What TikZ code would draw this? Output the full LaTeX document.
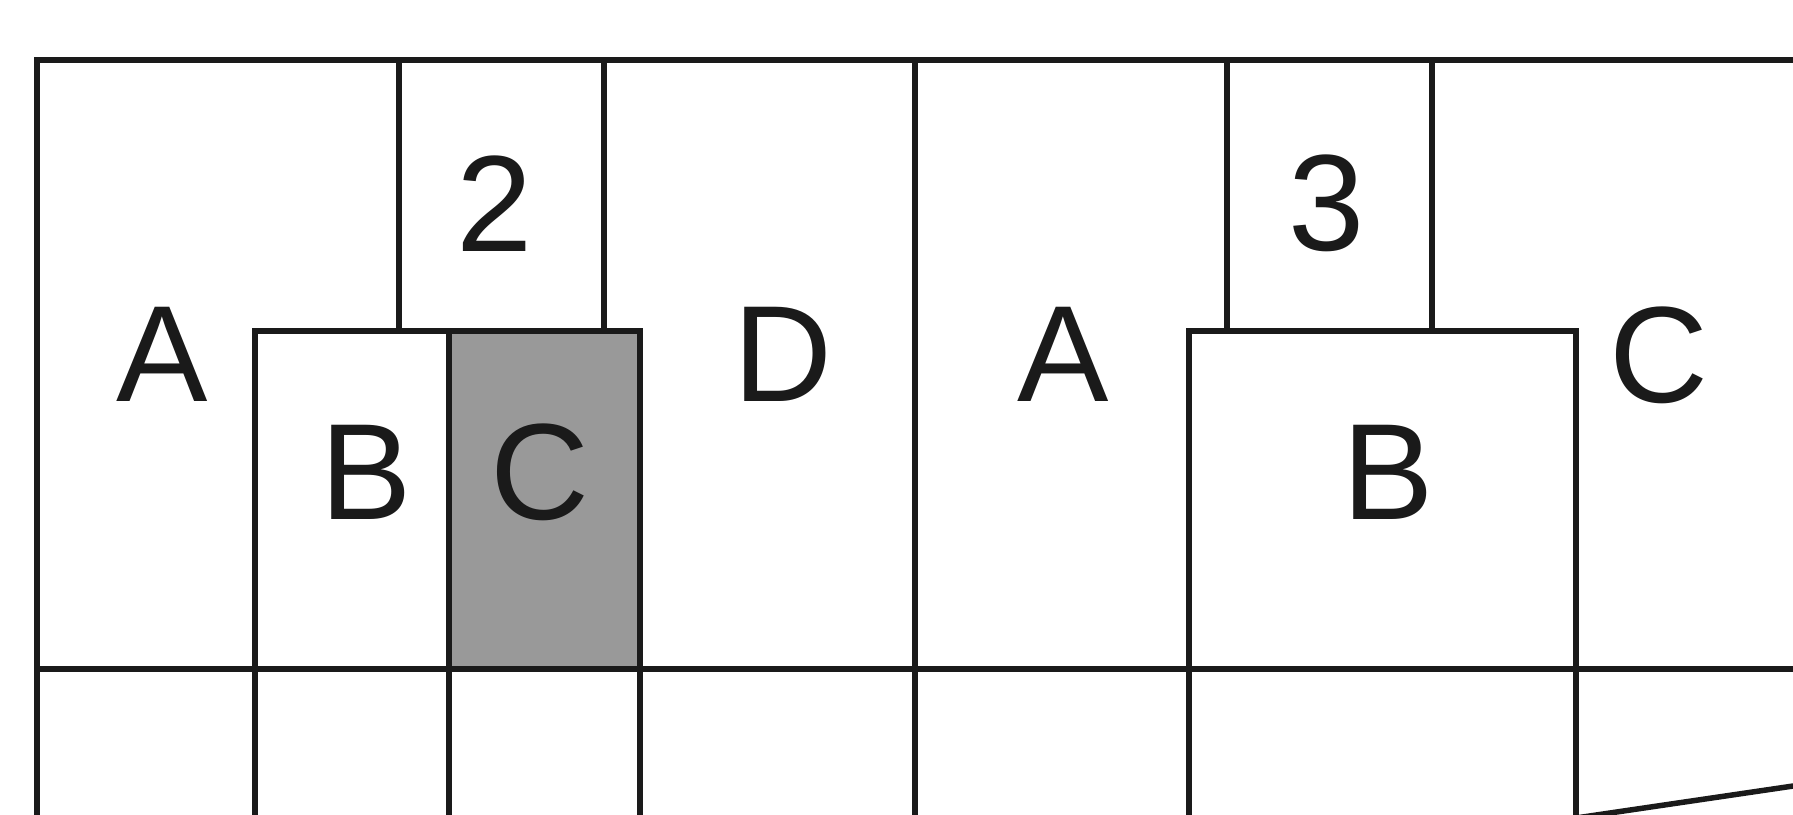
\documentclass[tikz,border=0pt]{standalone}
\usepackage{fontspec}
\setmainfont{Liberation Sans}
\usetikzlibrary{calc}

\definecolor{ink}{HTML}{1A1A1A}
\definecolor{cellgray}{HTML}{999999}

\begin{document}
\begin{tikzpicture}[x=0.02cm, y=-0.02cm,
    wall/.style={draw=ink, line width=0.11cm, line cap=rect},
    letter/.style={inner sep=0pt, text=ink, font=\fontsize{78}{82}\selectfont}]
    \useasboundingbox (0,0) rectangle (1793,815);
    \clip (0,0) rectangle (1793,815);
    % shaded cell
    \fill[cellgray] (449,331) rectangle (640,669);
    % horizontal lines
    \draw[wall] (37,60) -- (1800,60);
    \draw[wall] (37,669) -- (1800,669);
    \draw[wall] (255,331) -- (640,331);
    \draw[wall] (1189,331) -- (1576,331);
    % long verticals
    \draw[wall] (37,60) -- (37,820);
    \draw[wall] (915,60) -- (915,820);
    % upper short verticals
    \foreach \x in {399,604,1227,1432}
        \draw[wall] (\x,60) -- (\x,331);
    % lower verticals
    \foreach \x in {255,449,640,1189,1576}
        \draw[wall] (\x,331) -- (\x,820);
    % slanted line
    \draw[draw=ink, line width=0.11cm] (1576,818) -- (1800,785);
    % labels
    \node[letter] (a1) at (162,354) {A};
    \node[letter] (n2) at (495,204) {2};
    \node[letter] (b1) at (366,472) {B};
    \node[letter] (c1) at (540,472) {C};
    \node[letter] (d1) at (783,354) {D};
    \node[letter] (a2) at (1063,354) {A};
    \node[letter] (n3) at (1327,203) {3};
    \node[letter] (b2) at (1388,472) {B};
    \node[letter] (c2) at (1659,355) {C};
\end{tikzpicture}
\end{document}
